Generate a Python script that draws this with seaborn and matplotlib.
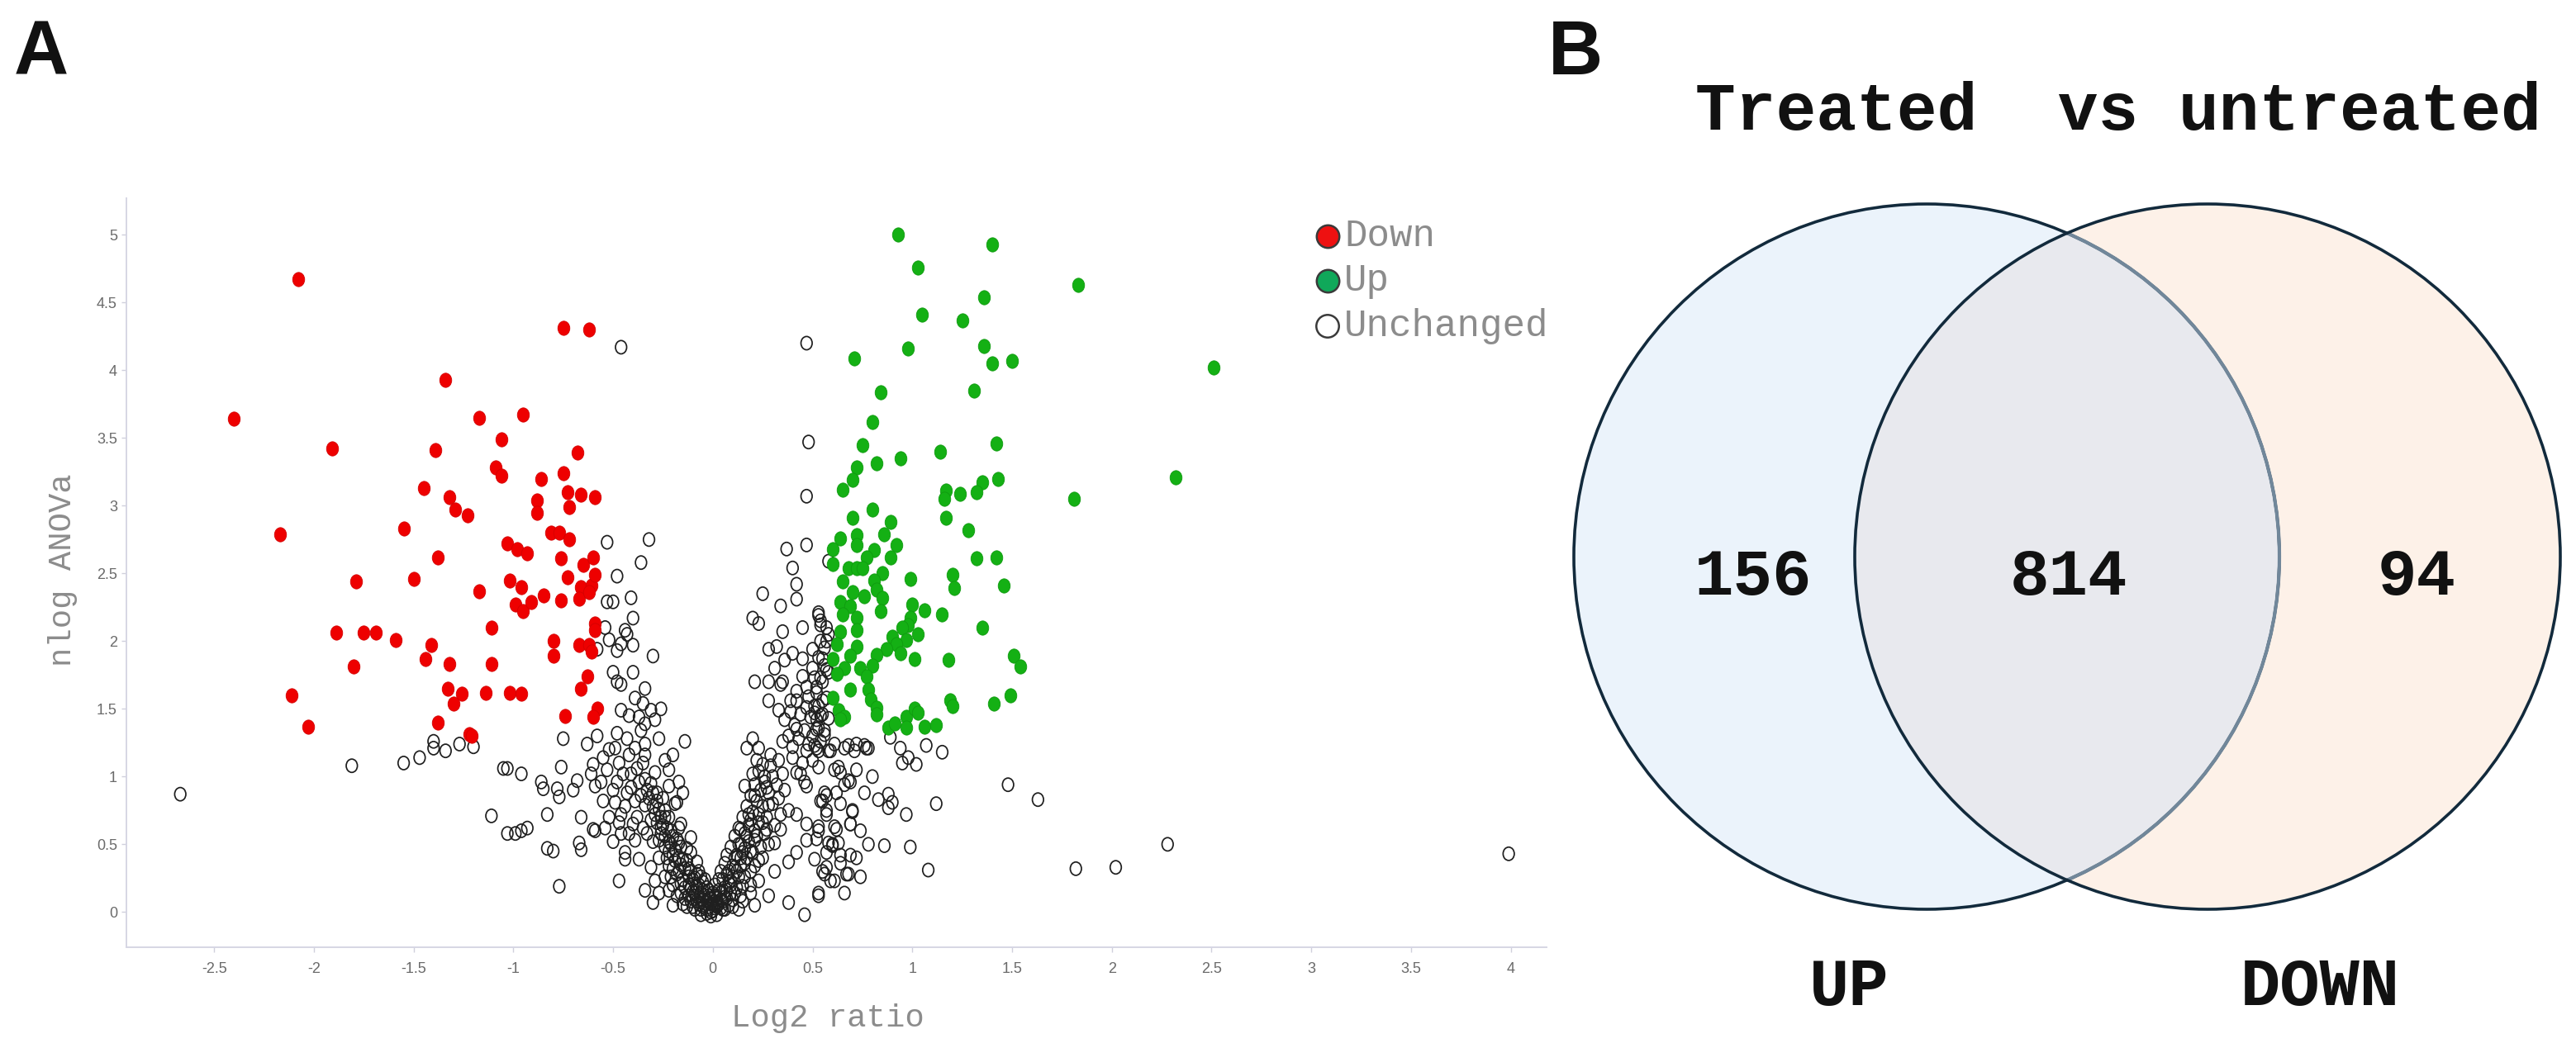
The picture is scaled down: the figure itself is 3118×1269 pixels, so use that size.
import matplotlib
matplotlib.use("Agg")
import matplotlib.pyplot as plt
import seaborn as sns
import pandas as pd
from matplotlib.path import Path
from matplotlib.transforms import Affine2D
from matplotlib.patches import Circle
from matplotlib.ticker import FuncFormatter, MultipleLocator

# ---- data (log2 ratio, nlog ANOVA) ----
down_pts = [
    (-2.08, 4.67), (-0.75, 4.31), (-0.62, 4.30), (-1.34, 3.93), (-2.40, 3.64), (-1.17, 3.65),
    (-0.95, 3.67), (-1.91, 3.42), (-1.39, 3.41), (-1.06, 3.49), (-0.68, 3.39), (-1.09, 3.28),
    (-1.06, 3.22), (-0.86, 3.20), (-0.75, 3.24), (-1.45, 3.13), (-1.32, 3.06), (-1.29, 2.97),
    (-1.23, 2.93), (-0.88, 3.04), (-0.88, 2.95), (-0.73, 3.10), (-0.66, 3.08), (-0.59, 3.06),
    (-0.72, 2.99), (-2.17, 2.79), (-1.55, 2.83), (-0.81, 2.80), (-0.77, 2.80), (-0.72, 2.75),
    (-1.03, 2.72), (-0.98, 2.68), (-0.93, 2.65), (-1.38, 2.62), (-0.76, 2.61), (-0.65, 2.56),
    (-0.60, 2.62), (-1.79, 2.44), (-1.50, 2.46), (-1.17, 2.37), (-1.02, 2.45), (-0.96, 2.40),
    (-0.73, 2.47), (-0.66, 2.40), (-0.61, 2.41), (-0.59, 2.49), (-0.67, 2.31), (-0.62, 2.36),
    (-0.99, 2.27), (-0.95, 2.22), (-0.91, 2.29), (-0.85, 2.34), (-0.76, 2.30), (-0.59, 2.13),
    (-0.59, 2.08), (-1.11, 2.10), (-1.89, 2.06), (-1.75, 2.06), (-1.69, 2.06), (-1.59, 2.01),
    (-1.41, 1.97), (-0.80, 2.00), (-0.67, 1.97), (-0.62, 1.97), (-0.61, 1.92), (-1.44, 1.87),
    (-0.80, 1.89), (-1.80, 1.81), (-1.32, 1.83), (-1.11, 1.83), (-0.63, 1.74), (-0.66, 1.65),
    (-2.11, 1.60), (-1.33, 1.65), (-1.26, 1.61), (-1.14, 1.62), (-1.02, 1.62), (-0.96, 1.61),
    (-1.30, 1.54), (-0.58, 1.50), (-0.60, 1.44), (-0.74, 1.45), (-2.03, 1.37), (-1.38, 1.40),
    (-1.22, 1.31), (-1.21, 1.30),
]

up_pts = [
    (0.93, 5.00), (1.40, 4.93), (1.03, 4.76), (1.83, 4.63), (1.36, 4.54), (1.05, 4.41),
    (1.25, 4.37), (0.71, 4.09), (0.98, 4.16), (1.36, 4.18), (1.40, 4.05), (1.50, 4.07),
    (2.51, 4.02), (0.84, 3.84), (1.31, 3.85), (0.80, 3.62), (0.75, 3.45), (0.94, 3.35),
    (1.14, 3.40), (1.42, 3.46), (0.72, 3.28), (0.82, 3.31), (0.70, 3.19), (0.65, 3.12),
    (1.43, 3.20), (1.35, 3.17), (1.32, 3.10), (1.24, 3.09), (1.17, 3.11), (1.16, 3.05),
    (2.32, 3.21), (1.81, 3.05), (0.80, 2.97), (0.70, 2.91), (0.89, 2.88), (1.17, 2.91),
    (1.28, 2.82), (0.64, 2.76), (0.60, 2.68), (0.72, 2.78), (0.72, 2.71), (0.86, 2.79),
    (0.92, 2.71), (0.81, 2.67), (0.89, 2.62), (0.77, 2.62), (0.60, 2.57), (0.68, 2.54),
    (0.72, 2.54), (0.75, 2.54), (0.85, 2.50), (1.32, 2.61), (1.42, 2.62), (0.65, 2.44),
    (0.81, 2.45), (0.99, 2.46), (1.20, 2.49), (1.21, 2.39), (1.46, 2.41), (0.70, 2.36),
    (0.76, 2.33), (0.82, 2.38), (0.85, 2.32), (0.64, 2.29), (0.69, 2.26), (0.84, 2.22),
    (1.00, 2.27), (1.06, 2.23), (0.65, 2.20), (0.72, 2.17), (0.99, 2.17), (1.15, 2.20),
    (0.98, 2.12), (0.95, 2.10), (0.72, 2.08), (0.64, 2.07), (1.35, 2.10), (0.90, 2.03),
    (1.03, 2.05), (0.97, 2.01), (0.92, 1.98), (0.62, 1.98), (0.72, 1.96), (0.87, 1.94),
    (0.94, 1.91), (0.82, 1.90), (0.69, 1.89), (0.60, 1.87), (1.01, 1.87), (1.18, 1.86),
    (1.51, 1.89), (1.54, 1.81), (0.66, 1.80), (0.74, 1.80), (0.80, 1.82), (0.77, 1.74),
    (0.62, 1.76), (0.69, 1.64), (0.78, 1.64), (0.79, 1.57), (0.60, 1.58), (0.82, 1.51),
    (0.63, 1.49), (0.66, 1.44), (1.19, 1.56), (1.20, 1.52), (1.41, 1.54), (1.49, 1.60),
    (0.82, 1.46), (0.88, 1.36), (0.91, 1.39), (0.97, 1.44), (0.97, 1.36), (1.01, 1.50),
    (1.03, 1.47), (1.06, 1.37), (1.12, 1.38), (0.64, 1.42),
]

unchanged_pts = [
    (-2.67, 0.87), (-0.46, 4.17), (0.47, 4.20), (0.48, 3.47), (0.47, 3.07), (0.47, 2.71),
    (0.37, 2.68), (-0.53, 2.73), (-0.32, 2.75), (-0.36, 2.58), (-0.48, 2.48), (-0.53, 2.29),
    (-0.50, 2.29), (-0.41, 2.32), (-0.40, 2.17), (-0.54, 2.10), (-0.44, 2.08), (-0.43, 2.05),
    (-0.52, 2.01), (-0.46, 1.98), (-0.40, 1.97), (-0.48, 1.93), (-0.30, 1.89), (-0.58, 1.94),
    (-0.50, 1.77), (-0.48, 1.70), (-0.46, 1.68), (-0.40, 1.77), (-0.34, 1.65), (-0.39, 1.58),
    (-0.35, 1.54), (-0.46, 1.49), (-0.42, 1.45), (-0.31, 1.49), (-0.26, 1.50), (-0.29, 1.42),
    (-0.37, 1.44), (-0.34, 1.39),
    (-1.81, 1.08), (-1.55, 1.10), (-1.47, 1.14), (-1.40, 1.21), (-1.40, 1.26), (-1.34, 1.19),
    (-1.27, 1.24), (-1.20, 1.22),
    (-1.05, 1.06), (-1.03, 1.06), (-0.96, 1.02), (-1.11, 0.71), (-1.03, 0.58), (-0.99, 0.58),
    (-0.96, 0.60), (-0.93, 0.62), (-0.83, 0.72), (-0.86, 0.96), (-0.85, 0.91), (-0.78, 0.91),
    (-0.77, 0.85), (-0.75, 1.28), (-0.76, 1.07), (-0.70, 0.90), (-0.83, 0.47), (-0.80, 0.45),
    (-0.77, 0.19), (-0.66, 0.70), (-0.67, 0.51), (-0.66, 0.46), (-0.60, 0.61), (-0.59, 0.60),
    (-0.68, 0.97), (-0.61, 1.02), (-0.59, 0.93), (-0.63, 1.24),
    (-0.55, 1.14), (-0.53, 1.05), (-0.47, 1.10), (-0.43, 1.28), (-0.39, 1.21), (-0.34, 1.24),
    (-0.27, 1.28), (-0.20, 1.16), (-0.14, 1.26), (-0.49, 1.21), (-0.60, 1.09), (-0.48, 0.96),
    (-0.41, 1.02), (-0.35, 1.10), (-0.29, 1.03), (-0.24, 1.12), (-0.55, 0.82), (-0.49, 0.81),
    (-0.43, 0.88), (-0.39, 0.82), (-0.34, 0.79), (-0.28, 0.88), (-0.22, 0.93), (-0.17, 0.96),
    (-0.52, 0.70), (-0.46, 0.72), (-0.40, 0.65), (-0.31, 0.68), (-0.24, 0.75), (-0.18, 0.81),
    (-0.15, 0.88), (-0.46, 0.58), (-0.39, 0.53), (-0.33, 0.58), (-0.27, 0.53), (-0.21, 0.60),
    (-0.16, 0.65), (-0.44, 0.44), (-0.44, 0.39), (-0.47, 0.23), (-0.37, 0.39), (-0.31, 0.33),
    (-0.27, 0.40), (-0.22, 0.45), (-0.17, 0.51), (-0.30, 0.07), (-0.24, 0.26), (-0.20, 0.32),
    (-0.15, 0.39), (-0.22, 0.16), (-0.16, 0.21), (-0.11, 0.30), (-0.12, 0.12), (-0.08, 0.19),
    (-0.10, 0.04), (-0.05, 0.09), (-0.03, 0.02), (-0.01, -0.03), (-0.06, -0.02), (0.02, 0.04),
    (-0.02, 0.12), (-0.08, 0.37), (-0.11, 0.44), (-0.29, 0.23), (-0.34, 0.16), (-0.20, 0.05),
    (-0.27, 0.14),
    (0.04, 0.09), (0.07, 0.16), (0.09, 0.23), (0.06, 0.02), (0.11, 0.33), (0.14, 0.40),
    (0.10, 0.09), (0.15, 0.19), (0.19, 0.30), (0.16, 0.47), (0.21, 0.53), (0.25, 0.40),
    (0.14, 0.61), (0.19, 0.68), (0.23, 0.72), (0.27, 0.61), (0.31, 0.51), (0.34, 0.61),
    (0.28, 0.79), (0.33, 0.84), (0.38, 0.75), (0.21, 0.86), (0.16, 0.93), (0.20, 1.02),
    (0.26, 0.96), (0.25, 1.09), (0.17, 1.21), (0.23, 1.21), (0.20, 1.28), (0.29, 1.16),
    (0.35, 1.26), (0.40, 1.14), (0.42, 1.03), (0.47, 1.19), (0.52, 1.21), (0.58, 1.19),
    (0.36, 1.42), (0.42, 1.35), (0.33, 1.49), (0.28, 1.56), (0.39, 1.56), (0.47, 1.51),
    (0.52, 1.42), (0.48, 1.59), (0.55, 1.56), (0.42, 1.63), (0.35, 1.70), (0.21, 1.70),
    (0.28, 1.70), (0.34, 1.68), (0.31, 1.80), (0.36, 1.86), (0.40, 1.91), (0.45, 1.87),
    (0.50, 1.94), (0.55, 1.87), (0.57, 1.79), (0.57, 2.00), (0.35, 2.07), (0.45, 2.10),
    (0.53, 2.21), (0.54, 2.12), (0.20, 2.17), (0.23, 2.13), (0.25, 2.35), (0.34, 2.26),
    (0.42, 2.31), (0.42, 2.42), (0.40, 2.54), (0.28, 1.94), (0.32, 1.96), (0.54, 1.73),
    (0.61, 1.24), (0.66, 1.21), (0.71, 1.19), (0.76, 1.23), (0.61, 1.05), (0.64, 1.03),
    (0.69, 0.96), (0.57, 0.86), (0.55, 0.82), (0.57, 0.75), (0.47, 0.93), (0.42, 0.72),
    (0.47, 0.65), (0.53, 0.63), (0.61, 0.63), (0.69, 0.65), (0.60, 0.49), (0.63, 0.51),
    (0.57, 0.44), (0.47, 0.53), (0.42, 0.44), (0.38, 0.37), (0.31, 0.30), (0.23, 0.23),
    (0.19, 0.14), (0.13, 0.02), (0.21, 0.05), (0.28, 0.12), (0.38, 0.07), (0.46, -0.02),
    (0.53, 0.12), (0.55, 0.30), (0.61, 0.23), (0.67, 0.28), (0.69, 0.42), (0.70, 0.75),
    (0.58, 2.59), (0.53, 2.19), (0.54, 2.15), (0.57, 2.10), (0.58, 2.05), (0.54, 2.00),
    (0.56, 1.95), (0.53, 1.88), (0.56, 1.82), (0.58, 1.77), (0.51, 1.73), (0.52, 1.66),
    (0.57, 1.58), (0.53, 1.52), (0.51, 1.47), (0.54, 1.45), (0.58, 1.43), (0.52, 1.35),
    (0.56, 1.31), (0.51, 1.23), (0.53, 1.19), (0.59, 1.19), (0.68, 1.23), (0.72, 1.24),
    (0.77, 1.21), (0.78, 1.21), (0.89, 1.29), (0.94, 1.21), (0.95, 1.10), (0.98, 1.14),
    (1.02, 1.09), (1.07, 1.23), (1.15, 1.18), (0.63, 1.07), (0.53, 1.07), (0.68, 0.97),
    (1.48, 0.94), (1.63, 0.83), (0.56, 0.88), (0.54, 0.82), (0.70, 0.74), (0.69, 0.65),
    (0.83, 0.83), (0.88, 0.87), (0.90, 0.81), (0.88, 0.77), (0.97, 0.72), (1.12, 0.80),
    (0.57, 0.72), (0.62, 0.61), (0.53, 0.60), (0.52, 0.54), (0.58, 0.51), (0.60, 0.50),
    (0.64, 0.42), (0.51, 0.39), (0.57, 0.33), (0.56, 0.28), (0.59, 0.23), (0.68, 0.28),
    (0.53, 0.14), (0.86, 0.49), (0.99, 0.48), (1.08, 0.31), (1.82, 0.32), (2.02, 0.33),
    (2.28, 0.50), (3.99, 0.43),
]

# the packed arms and bottom of the V
unchanged_dense_pts = [
    (-0.14, 0.10), (-0.12, 0.20), (-0.10, 0.15), (-0.09, 0.25), (-0.08, 0.08), (-0.07, 0.30),
    (-0.06, 0.14), (-0.05, 0.22), (-0.04, 0.05), (-0.03, 0.18), (-0.02, 0.10), (-0.01, 0.06),
    (0.00, 0.01), (0.01, 0.12), (0.02, 0.07), (0.03, 0.16), (0.04, 0.03), (0.05, 0.24),
    (0.06, 0.11), (0.07, 0.28), (0.08, 0.05), (0.09, 0.20), (0.10, 0.34), (0.11, 0.14),
    (0.12, 0.42), (0.13, 0.26), (0.14, 0.50), (0.15, 0.08), (0.16, 0.36), (0.17, 0.56),
    (-0.16, 0.35), (-0.18, 0.28), (-0.20, 0.42), (-0.13, 0.47), (-0.11, 0.55), (-0.17, 0.62),
    (-0.22, 0.52), (0.19, 0.45), (0.21, 0.60), (0.23, 0.38), (0.25, 0.66), (0.18, 0.72),
    (-0.24, 0.70), (-0.26, 0.62), (-0.30, 0.52), (-0.19, 0.80), (0.27, 0.92), (0.30, 1.00),
    (0.22, 1.12), (-0.22, 1.05),
    (-0.34, 0.98), (-0.33, 0.90), (-0.32, 0.84), (-0.31, 0.95), (-0.30, 0.78), (-0.30, 0.88),
    (-0.29, 0.72), (-0.28, 0.82), (-0.28, 0.66), (-0.27, 0.76), (-0.26, 0.70), (-0.26, 0.58),
    (-0.25, 0.64), (-0.25, 0.84), (-0.24, 0.56), (-0.24, 0.48), (-0.23, 0.62), (-0.23, 0.40),
    (-0.22, 0.70), (-0.22, 0.34), (-0.21, 0.50), (-0.21, 0.26), (-0.20, 0.56), (-0.20, 0.20),
    (-0.19, 0.38), (-0.19, 0.46), (-0.18, 0.12), (-0.18, 0.54), (-0.17, 0.30), (-0.17, 0.40),
    (-0.16, 0.14), (-0.16, 0.48), (-0.15, 0.24), (-0.15, 0.06), (-0.14, 0.32), (-0.14, 0.18),
    (-0.13, 0.38), (-0.13, 0.04), (-0.12, 0.26), (-0.12, 0.32), (-0.11, 0.08), (-0.11, 0.18),
    (-0.10, 0.24), (-0.10, 0.10), (-0.09, 0.02), (-0.09, 0.14), (-0.08, 0.28), (-0.08, 0.12),
    (-0.07, 0.06), (-0.07, 0.20), (-0.06, 0.02), (-0.06, 0.26), (-0.05, 0.16), (-0.05, 0.04),
    (-0.04, 0.12), (-0.04, 0.24), (-0.03, 0.08), (-0.03, -0.01), (-0.02, 0.16), (-0.02, 0.04),
    (-0.01, 0.10), (-0.01, 0.00), (0.00, 0.06), (0.00, 0.14), (0.01, 0.03), (0.01, 0.20),
    (0.02, 0.10), (0.02, -0.02), (0.03, 0.06), (0.03, 0.24), (0.04, 0.14), (0.04, 0.30),
    (0.05, 0.08), (0.05, 0.02), (0.06, 0.18), (0.06, 0.36), (0.07, 0.10), (0.07, 0.42),
    (0.08, 0.22), (0.08, 0.30), (0.09, 0.14), (0.09, 0.48), (0.10, 0.04), (0.10, 0.26),
    (0.11, 0.40), (0.11, 0.56), (0.12, 0.18), (0.12, 0.30), (0.13, 0.50), (0.13, 0.62),
    (0.14, 0.12), (0.14, 0.34), (0.15, 0.44), (0.15, 0.70), (0.16, 0.26), (0.16, 0.58),
    (0.17, 0.40), (0.17, 0.78), (0.18, 0.52), (0.18, 0.64), (0.19, 0.20), (0.19, 0.86),
    (0.20, 0.44), (0.20, 0.74), (0.21, 0.34), (0.21, 0.94), (0.22, 0.56), (0.22, 0.82),
    (0.23, 0.66), (0.23, 1.04), (0.24, 0.48), (0.24, 0.90), (0.25, 0.78), (0.26, 0.58),
    (0.26, 1.00), (0.27, 0.70), (0.28, 0.88), (0.28, 0.50), (0.29, 1.08), (0.30, 0.80),
    (0.31, 0.64), (0.32, 0.94), (0.33, 1.12), (0.34, 0.72), (0.35, 1.02), (0.36, 0.90),
    (0.38, 1.30), (0.40, 1.22), (0.41, 1.38), (0.43, 1.28), (0.44, 1.46), (0.45, 1.10),
    (0.46, 1.34), (0.48, 1.24), (0.49, 1.44), (0.50, 1.30), (0.51, 1.52), (0.53, 1.36),
    (0.54, 1.26), (0.55, 1.46), (0.56, 1.34), (0.44, 1.02), (0.46, 0.96), (0.50, 1.12),
    (0.39, 1.48), (0.42, 1.56), (0.47, 1.66), (0.52, 1.62), (0.55, 1.70), (0.50, 1.80),
    (0.45, 1.74),
    (-0.58, 1.30), (-0.56, 0.96), (-0.54, 0.62), (-0.52, 1.20), (-0.50, 0.90), (-0.50, 0.52),
    (-0.48, 1.32), (-0.47, 0.66), (-0.45, 1.02), (-0.44, 0.78), (-0.42, 1.16), (-0.42, 0.58),
    (-0.41, 0.92), (-0.38, 1.06), (-0.38, 0.70), (-0.37, 0.96), (-0.36, 0.86), (-0.36, 1.34),
    (-0.35, 0.62), (-0.34, 1.16),
    (0.62, 0.88), (0.64, 0.80), (0.66, 0.94), (0.72, 1.05), (0.74, 0.60), (0.76, 0.88),
    (0.80, 1.00), (0.64, 0.36), (0.72, 0.40), (0.66, 0.14), (0.74, 0.26), (0.78, 0.50),
]

x_ticks = [-2.5, -2, -1.5, -1, -0.5, 0, 0.5, 1, 1.5, 2, 2.5, 3, 3.5, 4]
legend_labels = ["Down", "Up", "Unchanged"]

# ---- Venn counts ----
venn_title = "Treated  vs untreated"
venn_sets = ["UP", "DOWN"]
only_up, both, only_down = 156, 814, 94

frames = []
for pts, status in [(unchanged_pts + unchanged_dense_pts, "Unchanged"),
                    (down_pts, "Down"), (up_pts, "Up")]:
    d = pd.DataFrame(pts, columns=["log2_ratio", "nlog_anova"])
    d["status"] = status
    frames.append(d)
df = pd.concat(frames, ignore_index=True)

sns.set_theme(style="white")
plt.rcParams["axes.unicode_minus"] = False
mono = ["Liberation Mono", "DejaVu Sans Mono"]
narrow = ["Liberation Sans Narrow", "Liberation Sans", "DejaVu Sans"]
sans = ["Liberation Sans", "DejaVu Sans"]

W, H = 3118, 1269
fig = plt.figure(figsize=(W / 100, H / 100), dpi=100)

# ---- panel A: volcano ----
ax = fig.add_axes([153 / W, 1 - 1147 / H, (1872 - 153) / W, (1147 - 240) / H])
ell = Path.unit_circle().transformed(Affine2D().scale(0.84, 1.0))

sns.scatterplot(data=df[df.status == "Unchanged"], x="log2_ratio", y="nlog_anova",
                marker=ell, s=135, facecolors="none", edgecolor="#1f1f1f",
                linewidth=1.25, ax=ax, legend=False, zorder=2)
sns.scatterplot(data=df[df.status == "Down"], x="log2_ratio", y="nlog_anova",
                marker=ell, s=155, color="#ee0000", edgecolor="#d40000",
                linewidth=0.6, ax=ax, legend=False, zorder=3)
sns.scatterplot(data=df[df.status == "Up"], x="log2_ratio", y="nlog_anova",
                marker=ell, s=155, color="#14b014", edgecolor="#0f9a0f",
                linewidth=0.6, ax=ax, legend=False, zorder=3)

ax.set_xlim(-2.94, 4.18)
ax.set_ylim(-0.26, 5.27)
ax.set_xticks(x_ticks)
ax.yaxis.set_major_locator(MultipleLocator(0.5))
fmt = FuncFormatter(lambda v, p: f"{v:g}")
ax.xaxis.set_major_formatter(fmt)
ax.yaxis.set_major_formatter(fmt)
ax.set_xlabel("")
ax.set_ylabel("")
for side in ["top", "right"]:
    ax.spines[side].set_visible(False)
for side in ["left", "bottom"]:
    ax.spines[side].set_color("#d6d6e4")
    ax.spines[side].set_linewidth(1.4)
ax.tick_params(axis="both", which="major", length=4, width=1, color="#d0d0dc",
               labelcolor="#6a6a6a", labelsize=13, bottom=True, left=True)
ax.tick_params(axis="x", pad=9)
ax.tick_params(axis="y", pad=4)
for lab in ax.get_xticklabels() + ax.get_yticklabels():
    lab.set_family(narrow)

# ---- overlay in pixel coordinates for labels, legend and the Venn ----
ov = fig.add_axes([0, 0, 1, 1])
ov.set_xlim(0, W)
ov.set_ylim(H, 0)
ov.axis("off")

ov.text(1002, 1233, "Log2 ratio", family=mono, fontsize=28, color="#8c8c8c",
        ha="center", va="center")
ov.text(76, 690, "nlog ANOVa", family=mono, fontsize=28, color="#8c8c8c",
        ha="center", va="center", rotation=90)

leg_y = [286, 340, 395]
leg_face = ["#ee1111", "#10a85a", "none"]
for yy, fc, lab in zip(leg_y, leg_face, legend_labels):
    ov.scatter([1607], [yy], s=390, facecolors=fc, edgecolors="#3a3a3a", linewidths=1.8)
    ov.text(1627, yy, lab, family=mono, fontsize=33, color="#8c8c8c", ha="left", va="center")

ov.text(50, 90, "A", family=sans, fontweight="bold", fontsize=66,
        ha="center", va="baseline", color="#111111")
ov.text(1907, 90, "B", family=sans, fontweight="bold", fontsize=66,
        ha="center", va="baseline", color="#111111")

# Venn circles
cl, cr, r = (2332, 674), (2672, 674), 427
edge = "#122a3c"
ov.add_patch(Circle(cl, r, facecolor="#ebf3fb", edgecolor="none", zorder=1))
ov.add_patch(Circle(cr, r, facecolor="#fdf1e8", edgecolor="none", zorder=1))
clip_left = Circle(cl, r, transform=ov.transData)
lens = Circle(cr, r, facecolor="#e8e9ee", edgecolor="none", zorder=2)
ov.add_patch(lens)
lens.set_clip_path(clip_left)
ov.add_patch(Circle(cl, r, facecolor="none", edgecolor=edge, linewidth=2.6, zorder=3))
clip_right = Circle(cr, r, transform=ov.transData)
inner = Circle(cl, r, facecolor="none", edgecolor="#71879a", linewidth=3.0, zorder=4)
ov.add_patch(inner)
inner.set_clip_path(clip_right)
ov.add_patch(Circle(cr, r, facecolor="none", edgecolor=edge, linewidth=2.6, zorder=5))

bold_mono = dict(family=mono, fontweight="bold", color="#111111", va="baseline")
ov.text(2052, 157, venn_title, fontsize=58.5, ha="left", **bold_mono)
ov.text(2122, 720, str(only_up), fontsize=57, ha="center", zorder=6, **bold_mono)
ov.text(2504, 720, str(both), fontsize=57, ha="center", zorder=6, **bold_mono)
ov.text(2925, 720, str(only_down), fontsize=57, ha="center", zorder=6, **bold_mono)
ov.text(2238, 1217, venn_sets[0], fontsize=58, ha="center", **bold_mono)
ov.text(2808, 1217, venn_sets[1], fontsize=58, ha="center", **bold_mono)

fig.savefig("out.png", dpi=100)
